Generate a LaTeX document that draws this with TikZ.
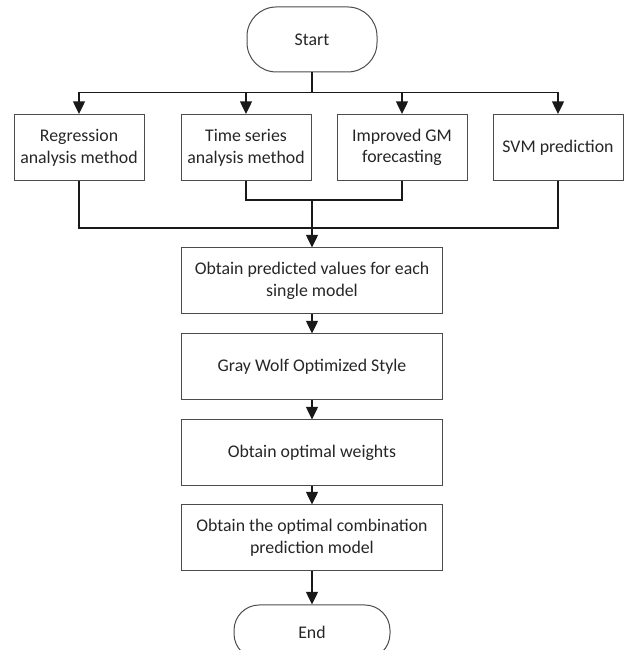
\documentclass[tikz,border=0pt]{standalone}
\usepackage{fontspec}
\setmainfont{Carlito}
\usetikzlibrary{arrows.meta,shapes,positioning,trees}
\tikzset{
  basic/.style    = {draw=black!70, line width=0.75pt, text=black!85, rectangle,
                     font=\fontsize{13.35}{16.3}\selectfont, align=center, inner sep=2pt},
  terminal/.style = {basic, rounded corners=22pt, minimum width=97.5pt, minimum height=48.75pt},
  method/.style   = {basic, minimum width=97.5pt, minimum height=49.5pt},
  stage/.style    = {basic, minimum width=195.75pt, minimum height=49.5pt},
  link/.style     = {draw=black!90, line width=1.1pt}
}

\begin{document}
\begin{tikzpicture}[>={Triangle[width=9pt,length=9.5pt]},
    level 1/.style={sibling distance=117pt}, level distance=81pt,
    edge from parent/.style={link,->},
    edge from parent path={(\tikzparentnode.south) -- ++(0,-15pt) -| (\tikzchildnode.north)}]
  \useasboundingbox (0,0) rectangle (470.25pt,-487.5pt);
  % start and the four single models
  \node[terminal] (start) at (234pt,-29.6pt) {Start}
    child {node[method, xshift=0.75pt] (reg) {Regression\\analysis method}}
    child {node[method, xshift=9pt] (ts) {Time series\\analysis method}}
    child {node[method, xshift=9pt] (gm) {Improved GM\\forecasting}}
    child {node[method, xshift=9pt] (svm) {SVM prediction}};
  % combination steps
  \node[stage, below=131.25pt of start] (single) {Obtain predicted values for each\\single model};
  \node[stage, below=14.25pt of single] (gwo) {Gray Wolf Optimized Style};
  \node[stage, below=14.25pt of gwo] (weights) {Obtain optimal weights};
  \node[stage, below=13.5pt of weights] (combo) {Obtain the optimal combination\\prediction model};
  \node[terminal, minimum width=117pt, minimum height=40.5pt, rounded corners=19pt,
        below=24.75pt of combo] (end) {End};
  % merging lines
  \coordinate (upperbus) at (0,-150pt);
  \coordinate (lowerbus) at (0,-171pt);
  \draw[link] (ts.south) -- (ts.south |- upperbus) -- (gm.south |- upperbus) -- (gm.south);
  \draw[link] (reg.south) -- (reg.south |- lowerbus) -- (svm.south |- lowerbus) -- (svm.south);
  \draw[link,->] (single.north |- upperbus) -- (single.north);
  \draw[link,->] (single) -- (gwo);
  \draw[link,->] (gwo) -- (weights);
  \draw[link,->] (weights) -- (combo);
  \draw[link,->] (combo) -- (end);
\end{tikzpicture}
\end{document}
